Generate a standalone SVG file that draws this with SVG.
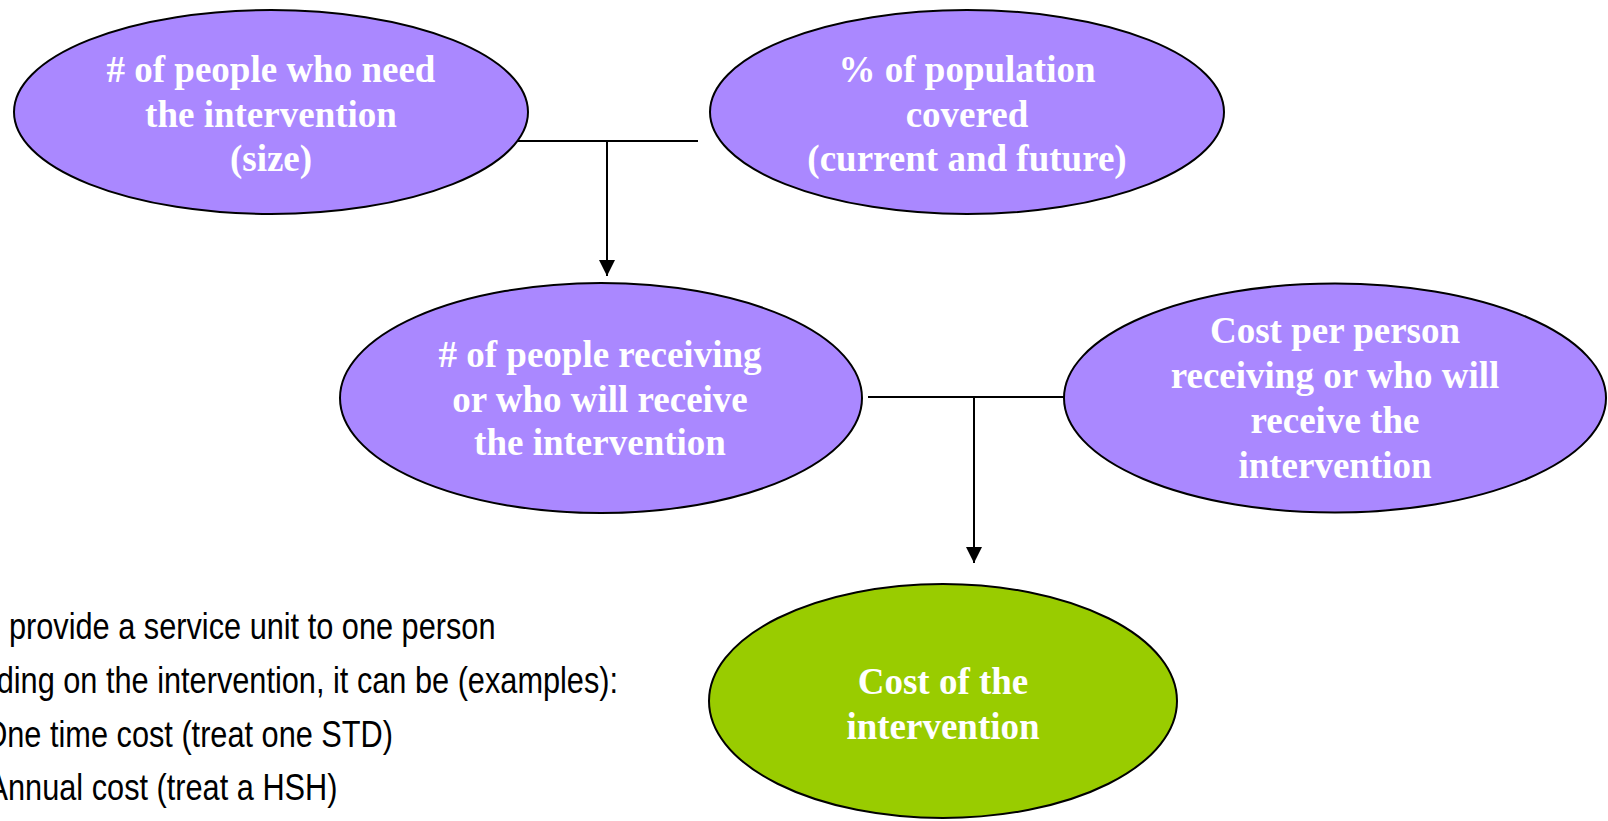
<svg xmlns="http://www.w3.org/2000/svg" width="1608" height="821" viewBox="0 0 1608 821">
  <style>
    .node { stroke: #000; stroke-width: 2; }
    .purple { fill: #AA88FF; }
    .green { fill: #99CC00; }
    .lbl { font-family: "Liberation Serif", "Times New Roman", serif; font-weight: bold; font-size: 37px; fill: #fff; text-anchor: middle; }
    .conn { stroke: #000; stroke-width: 2; fill: none; }
    .note { font-family: "Liberation Sans", Arial, sans-serif; font-size: 37px; fill: #000; }
  </style>
  <defs>
    <marker id="arrow" markerUnits="userSpaceOnUse" markerWidth="16" markerHeight="16" viewBox="0 0 16 16" refX="16" refY="8" orient="auto">
      <path d="M0,0 L16,8 L0,16 Z" fill="#000"/>
    </marker>
  </defs>
  <rect width="1608" height="821" fill="#fff"/>

  <g id="connectors">
    <line class="conn" x1="515" y1="141" x2="698" y2="141"/>
    <line class="conn" x1="607" y1="141" x2="607" y2="276" marker-end="url(#arrow)"/>
    <line class="conn" x1="868" y1="397" x2="1064" y2="397"/>
    <line class="conn" x1="974" y1="397" x2="974" y2="563" marker-end="url(#arrow)"/>
  </g>

  <g id="node-need">
    <ellipse class="node purple" cx="271" cy="112" rx="257" ry="102"/>
    <text class="lbl" x="271" y="82"># of people who need</text>
    <text class="lbl" x="271" y="126.5">the intervention</text>
    <text class="lbl" x="271" y="171">(size)</text>
  </g>

  <g id="node-coverage">
    <ellipse class="node purple" cx="967" cy="112" rx="257" ry="102"/>
    <text class="lbl" x="967" y="82">% of population</text>
    <text class="lbl" x="967" y="126.5">covered</text>
    <text class="lbl" x="967" y="171">(current and future)</text>
  </g>

  <g id="node-receiving">
    <ellipse class="node purple" cx="601" cy="398" rx="261" ry="115"/>
    <text class="lbl" x="600" y="367"># of people receiving</text>
    <text class="lbl" x="600" y="411.5">or who will receive</text>
    <text class="lbl" x="600" y="455">the intervention</text>
  </g>

  <g id="node-costper">
    <ellipse class="node purple" cx="1335" cy="398" rx="271" ry="114.5"/>
    <text class="lbl" x="1335" y="343">Cost per person</text>
    <text class="lbl" x="1335" y="388">receiving or who will</text>
    <text class="lbl" x="1335" y="433">receive the</text>
    <text class="lbl" x="1335" y="478">intervention</text>
  </g>

  <g id="node-cost">
    <ellipse class="node green" cx="943" cy="701" rx="234" ry="117"/>
    <text class="lbl" x="943" y="694">Cost of the</text>
    <text class="lbl" x="943" y="739">intervention</text>
  </g>

  <g id="notes" transform="scale(0.83,1)">
    <text class="note" x="10.8" y="639">provide a service unit to one person</text>
    <text class="note" x="-4" y="693">ding on the intervention, it can be (examples):</text>
    <text class="note" x="-20" y="747">One time cost (treat one STD)</text>
    <text class="note" x="-15" y="800">Annual cost (treat a HSH)</text>
  </g>
</svg>
